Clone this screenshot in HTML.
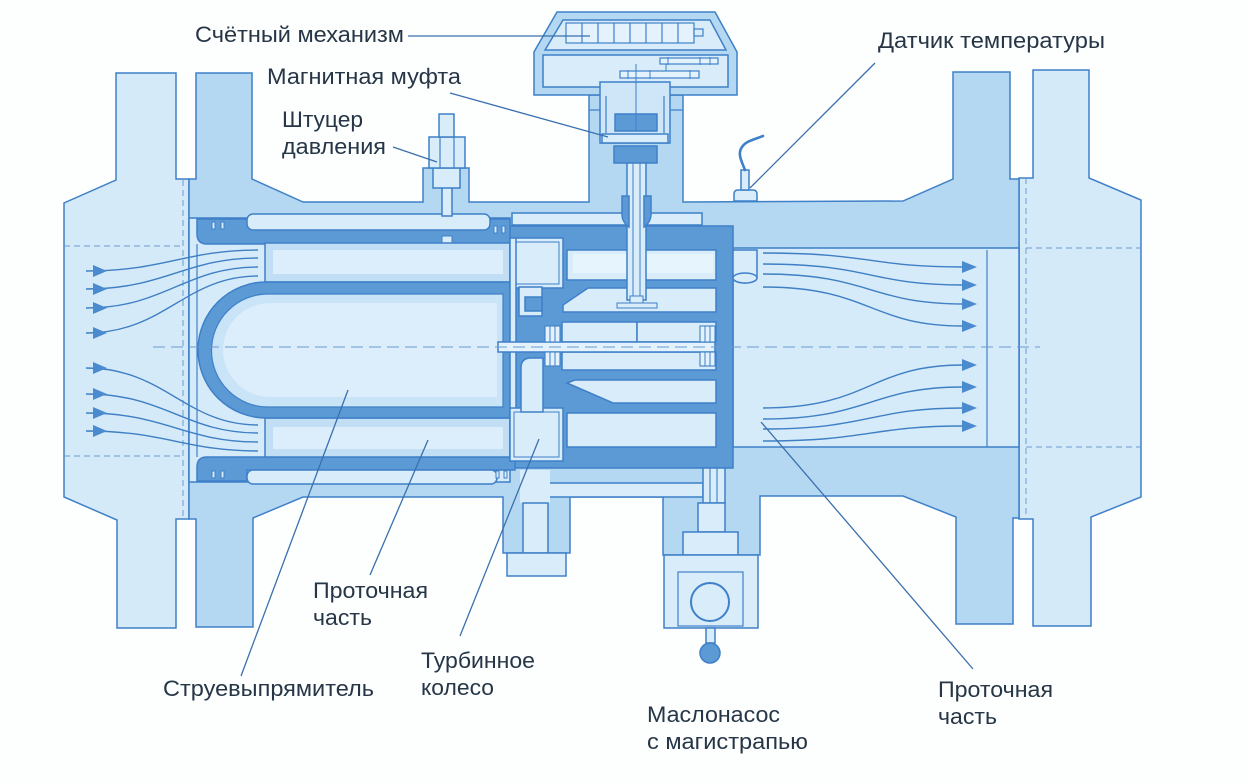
<!DOCTYPE html>
<html><head><meta charset="utf-8"><style>
html,body{margin:0;padding:0;background:#fdfefe;}
svg{display:block;}
text{font-family:"Liberation Sans","DejaVu Sans",sans-serif;fill:#263647;font-size:22px;}
</style></head><body>
<svg width="1248" height="784" viewBox="0 0 1248 784" xmlns="http://www.w3.org/2000/svg">
<rect width="1248" height="784" fill="#fdfefe"/>
<g stroke="#3f80c8" stroke-width="1.5" stroke-linejoin="miter">
<!-- outer flanges -->
<path d="M116,73 H176 V179 H189 V519 H176 V628 H117 V520 L64,497 V203 L116,180 Z" fill="#d5eaf9"/>
<path d="M1033,70 H1089 V178 L1141,200 V497 L1091,517 V626 H1033 V519 H1019 V178 H1033 Z" fill="#d5eaf9"/>
<!-- main body -->
<path d="M189,179 L196,179 L196,73 L252,73 L252,179 L303,202 L423,202 L423,168 L469,168 L469,202 L589,202 L589,95 L683,95 L683,202 L903,201 L953,179 L953,72 L1010,72 L1010,179 L1019,179 L1019,518 L1013,518 L1013,624 L956,624 L956,517 L903,496 L760,496 L760,555 L663,555 L663,497 L570,497 L570,553 L503,553 L503,497 L303,497 L253,518 L253,627 L196,627 L196,519 L189,519 Z" fill="#b5d8f2"/>
<!-- counter housing -->
<path d="M534,95 V52 L557,12 H715 L737,52 V95 Z" fill="#b5d8f2"/>
<path d="M545,50 L563,20 H710 L726,50 Z" fill="#d8ecfa"/>
<rect x="543" y="55" width="185" height="32" fill="#d8ecfa"/>
<rect x="566" y="23" width="128" height="20" fill="#e3f2fd" stroke-width="1.2"/>
<path d="M582,23V43 M598,23V43 M614,23V43 M630,23V43 M646,23V43 M662,23V43 M678,23V43" stroke-width="1.2" fill="none"/>
<rect x="694" y="29" width="9" height="7" fill="#d8ecfa" stroke-width="1.2"/>
<rect x="660" y="58" width="58" height="6" fill="#e3f2fd" stroke-width="1.2"/>
<path d="M668,57V65 M700,57V65 M710,57V65" stroke-width="1" fill="none"/>
<rect x="620" y="71" width="79" height="7" fill="#e3f2fd" stroke-width="1.2"/>
<path d="M628,70V79 M650,70V79 M690,70V79 M666,64V71" stroke-width="1" fill="none"/>
<!-- neck cup -->
<rect x="600" y="82" width="70" height="61" fill="#cfe6f8"/>
<path d="M606,96 V133 M664,96 V133" stroke-width="1.2" fill="none"/>
<path d="M589,110 H600 M670,110 H683" stroke-width="1.2" fill="none"/>
<path d="M636,64 V114" stroke-width="1" fill="none"/>
<rect x="615" y="114" width="42" height="17" fill="#5c9ad6"/>
<path d="M636,114V131" stroke-width="1" fill="none"/>
<rect x="602" y="134" width="66" height="9" fill="#d8ecfa"/>
<rect x="614" y="146" width="43" height="17" fill="#5c9ad6"/>
<!-- left interior -->
<rect x="189" y="218" width="321" height="264" fill="#d6ebfa"/>
<!-- right bore -->
<rect x="733" y="248" width="286" height="199" fill="#d6ebfa"/>
<!-- turbine/bearing housing dark -->
<rect x="510" y="226" width="223" height="242" fill="#5c9ad6"/>
<path d="M197,219 H510 V244 H207 Q197,244 197,234 Z" fill="#5c9ad6"/>
<path d="M197,467 Q197,457 207,457 H515 V470 H247 V481 H197 Z" fill="#5c9ad6"/>
<!-- channels -->
<rect x="247" y="214" width="243" height="16" rx="6" fill="#d8ecfa"/>
<rect x="512" y="213" width="190" height="12" fill="#d8ecfa"/>
<rect x="247" y="470" width="250" height="14" rx="6" fill="#d8ecfa"/>
<rect x="442" y="236" width="10" height="7" fill="#d8ecfa" stroke-width="1"/>
<!-- small marks -->
<g fill="#d8ecfa" stroke-width="1">
<rect x="212" y="222" width="3" height="7"/><rect x="221" y="222" width="3" height="7"/>
<rect x="212" y="471" width="3" height="7"/><rect x="221" y="471" width="3" height="7"/>
<rect x="494" y="226" width="3" height="7"/><rect x="502" y="226" width="3" height="7"/>
<rect x="496" y="471" width="3" height="7"/><rect x="504" y="471" width="3" height="7"/>
</g>
<!-- straightener -->
<rect x="265" y="243" width="245" height="39" fill="#c2def4"/>
<rect x="273" y="250" width="230" height="24" fill="#dcedfb" stroke="none"/>
<rect x="265" y="418" width="245" height="39" fill="#c2def4"/>
<rect x="273" y="427" width="230" height="22" fill="#dcedfb" stroke="none"/>
<path d="M510,282 H266 A68,68 0 0 0 266,418 H510 Z" fill="#5c9ad6"/>
<path d="M503,294 H268 A56.5,56.5 0 0 0 268,407 H503 Z" fill="#c9e3f7" stroke-width="1.2"/>
<path d="M497,303 H270 A47,47 0 0 0 270,397 H497 Z" fill="#dceefc" stroke="none"/>
<path d="M197,244 V457" stroke-width="1.2" fill="none"/>
<!-- turbine wheel -->
<rect x="510" y="238" width="53" height="50" fill="#d8ecfa"/>
<rect x="514" y="242" width="45" height="42" fill="none" stroke-width="1"/>
<rect x="510" y="238" width="6" height="223" fill="#d8ecfa"/>
<rect x="519" y="287" width="23" height="29" fill="#d8ecfa"/>
<rect x="525" y="297" width="17" height="14" fill="#5c9ad6"/>
<rect x="510" y="408" width="53" height="53" fill="#d8ecfa"/>
<rect x="514" y="412" width="45" height="45" fill="none" stroke-width="1"/>
<path d="M521,412 V368 Q521,358 531,358 H543 V412 Z" fill="#d8ecfa"/>
<!-- chambers -->
<rect x="567" y="250" width="149" height="30" fill="#d8ecfa"/>
<rect x="573" y="254" width="140" height="19" fill="#e6f4fe" stroke="none"/>
<path d="M563,312 V305 L588,288 H716 V312 Z" fill="#d8ecfa"/>
<rect x="562" y="322" width="75" height="20" fill="#d8ecfa"/>
<rect x="637" y="322" width="79" height="20" fill="#d8ecfa"/>
<rect x="562" y="352" width="154" height="18" fill="#d8ecfa"/>
<path d="M567,383 L575,380 H716 V403 H613 Z" fill="#d8ecfa"/>
<rect x="567" y="413" width="149" height="34" fill="#d8ecfa"/>
<rect x="498" y="342" width="217" height="10" fill="#e3f2fd"/>
<g fill="#e3f2fd" stroke-width="1.1">
<rect x="545" y="326" width="15" height="16"/><rect x="545" y="352" width="15" height="14"/>
<rect x="700" y="326" width="15" height="16"/><rect x="700" y="352" width="15" height="14"/>
</g>
<path d="M550,326V342 M555,326V342 M550,352V366 M555,352V366 M705,326V342 M710,326V342 M705,352V366 M710,352V366" stroke-width="1" fill="none"/>
<!-- vertical shaft -->
<rect x="627" y="163" width="19" height="137" fill="#d8ecfa"/>
<path d="M633,163 V300 M640,163 V300" stroke-width="1" fill="none"/>
<rect x="630" y="296" width="13" height="8" fill="#d8ecfa" stroke-width="1"/>
<rect x="617" y="303" width="40" height="5" fill="#d8ecfa" stroke-width="1"/>
<path d="M622,196 H629 V227 Q622,222 622,214 Z" fill="#5c9ad6"/>
<path d="M651,196 H644 V227 Q651,222 651,214 Z" fill="#5c9ad6"/>
<!-- pressure nozzle -->
<rect x="442" y="186" width="10" height="30" fill="#d8ecfa"/>
<rect x="433" y="168" width="27" height="20" fill="#d8ecfa"/>
<rect x="429" y="137" width="36" height="31" fill="#d8ecfa"/>
<path d="M440,137V168 M454,137V168" stroke-width="1.2" fill="none"/>
<rect x="439" y="114" width="15" height="23" fill="#d8ecfa"/>
<!-- turbine boss / oil channel -->
<rect x="548" y="483" width="155" height="14" fill="#d8ecfa"/>
<rect x="520" y="470" width="30" height="33" fill="#d8ecfa" stroke="none"/>
<rect x="523" y="503" width="25" height="50" fill="#d8ecfa"/>
<rect x="507" y="553" width="59" height="23" fill="#d8ecfa"/>
<!-- oil pump -->
<rect x="703" y="468" width="22" height="35" fill="#d8ecfa"/>
<path d="M710,468V503 M717,468V503" stroke-width="1.1" fill="none"/>
<rect x="698" y="503" width="27" height="29" fill="#d8ecfa"/>
<rect x="683" y="532" width="55" height="23" fill="#d8ecfa"/>
<rect x="664" y="555" width="94" height="73" fill="#d8ecfa"/>
<rect x="678" y="572" width="65" height="54" fill="none" stroke-width="1.2"/>
<circle cx="710" cy="602" r="19" fill="#d8ecfa" stroke-width="2"/>
<rect x="706" y="628" width="9" height="15" fill="#d8ecfa"/>
<circle cx="710" cy="653" r="10" fill="#5c9ad6"/>
<!-- oil cylinder right -->
<path d="M733,250 H757 V278 A12,5 0 0 1 733,278 Z" fill="#d8ecfa"/>
<ellipse cx="745" cy="278" rx="12" ry="5" fill="#d8ecfa"/>
<path d="M987,250 V447" stroke-width="1.2" fill="none"/>
<!-- temperature sensor -->
<path d="M734,201 V194 Q734,190 738,190 H753 Q757,190 757,194 V201 Z" fill="#d8ecfa"/>
<rect x="741" y="170" width="8" height="20" fill="#d8ecfa"/>
<path d="M745,170 C742,162 737,154 742,147 C746,141 753,140 763,136" fill="none" stroke-width="2.6" stroke-linecap="round"/>
</g>
<!-- dashed lines -->
<g stroke="#6a9bd0" stroke-width="1" fill="none" stroke-dasharray="6 4">
<path d="M64,246 H183 M64,456 H183 M183,180 V519"/>
<path d="M1026,248 H1141 M1026,447 H1141 M1026,178 V519"/>
</g>
<path d="M153,347 H1040" stroke="#6a9bd0" stroke-width="1.1" stroke-dasharray="12 6" fill="none"/>
<!-- flow lines -->
<g stroke="#3f7fc4" stroke-width="1.4" fill="none">
<path d="M86,271 C165,271 185,250 258,250"/>
<path d="M86,289 C165,289 185,258 258,258"/>
<path d="M86,308 C165,308 185,267 258,267"/>
<path d="M86,333 C165,333 185,276 258,276"/>
<path d="M86,368 C165,368 185,425 258,425"/>
<path d="M86,394 C165,394 185,433 258,433"/>
<path d="M86,413 C165,413 185,442 258,442"/>
<path d="M86,431 C165,431 185,451 258,451"/>
<path d="M763,253 C870,253 870,267 963,267"/>
<path d="M763,264 C870,264 870,285 963,285"/>
<path d="M763,274 C870,274 870,304 963,304"/>
<path d="M763,287 C870,287 870,326 963,326"/>
<path d="M763,408 C870,408 870,365 963,365"/>
<path d="M763,419 C870,419 870,387 963,387"/>
<path d="M763,429 C870,429 870,408 963,408"/>
<path d="M763,441 C870,441 870,426 963,426"/>
</g>
<g fill="#4a8bd0">
<polygon points="93,265 107,271 93,277"/><polygon points="93,283 107,289 93,295"/>
<polygon points="93,302 107,308 93,314"/><polygon points="93,327 107,333 93,339"/>
<polygon points="93,362 107,368 93,374"/><polygon points="93,388 107,394 93,400"/>
<polygon points="93,407 107,413 93,419"/><polygon points="93,425 107,431 93,437"/>
<polygon points="962,261 977,267 962,273"/><polygon points="962,279 977,285 962,291"/>
<polygon points="962,298 977,304 962,310"/><polygon points="962,320 977,326 962,332"/>
<polygon points="962,359 977,365 962,371"/><polygon points="962,381 977,387 962,393"/>
<polygon points="962,402 977,408 962,414"/><polygon points="962,420 977,426 962,432"/>
</g>
<!-- leader lines -->
<g stroke="#3a70ad" stroke-width="1.3" fill="none">
<path d="M408,36 H590"/>
<path d="M450,93 L608,137"/>
<path d="M393,147 L437,162"/>
<path d="M875,63 L750,188"/>
<path d="M348,390 L241,676"/>
<path d="M428,440 L370,575"/>
<path d="M539,439 L460,636"/>
<path d="M761,422 L973,669"/>
</g>
<!-- labels -->
<text x="195" y="42" textLength="209" lengthAdjust="spacingAndGlyphs">Счётный механизм</text>
<text x="267" y="84" textLength="194" lengthAdjust="spacingAndGlyphs">Магнитная муфта</text>
<text x="282" y="127" textLength="81" lengthAdjust="spacingAndGlyphs">Штуцер</text>
<text x="282" y="154" textLength="104" lengthAdjust="spacingAndGlyphs">давления</text>
<text x="878" y="48" textLength="227" lengthAdjust="spacingAndGlyphs">Датчик температуры</text>
<text x="313" y="598" textLength="115" lengthAdjust="spacingAndGlyphs">Проточная</text>
<text x="313" y="625" textLength="59" lengthAdjust="spacingAndGlyphs">часть</text>
<text x="163" y="696" textLength="211" lengthAdjust="spacingAndGlyphs">Струевыпрямитель</text>
<text x="421" y="668" textLength="114" lengthAdjust="spacingAndGlyphs">Турбинное</text>
<text x="421" y="695" textLength="73" lengthAdjust="spacingAndGlyphs">колесо</text>
<text x="647" y="722" textLength="133" lengthAdjust="spacingAndGlyphs">Маслонасос</text>
<text x="647" y="749" textLength="161" lengthAdjust="spacingAndGlyphs">с магистрапью</text>
<text x="938" y="697" textLength="115" lengthAdjust="spacingAndGlyphs">Проточная</text>
<text x="938" y="724" textLength="59" lengthAdjust="spacingAndGlyphs">часть</text>
</svg>
</body></html>
